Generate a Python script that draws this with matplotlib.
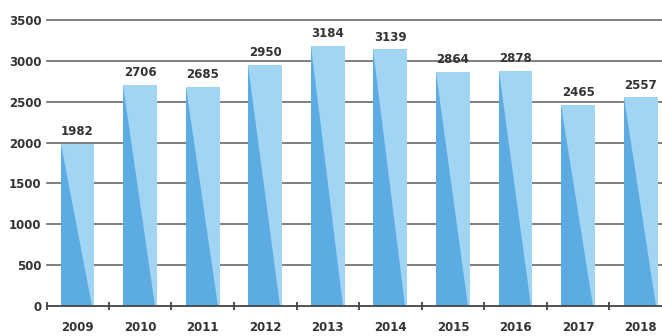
import numpy as np
import matplotlib
matplotlib.use("Agg")
import matplotlib.pyplot as plt

years = ['2009', '2010', '2011', '2012', '2013', '2014', '2015', '2016', '2017', '2018']
values = [1982, 2706, 2685, 2950, 3184, 3139, 2864, 2878, 2465, 2557]
yticks = [0, 500, 1000, 1500, 2000, 2500, 3000, 3500]

light = '#a2d5f4'
dark = '#5cabe3'
grid_col = '#6a6a6a'
txt = '#333333'

fig = plt.figure(figsize=(6.62, 3.36), dpi=100)
ax = fig.add_axes([47/662, 30/336, 615/662, 286/336])

x = np.arange(len(years))
w = 0.54

# gridlines behind the bars
for yv in yticks[1:]:
    ax.axhline(yv, color=grid_col, lw=1.2, zorder=1, clip_on=False)

ax.bar(x, values, width=w, color=light, zorder=2)
for xi, v in zip(x, values):
    x0, x1 = xi - w/2, xi + w/2
    ax.fill([x0, x0, x1 - 0.03], [v, 0, 0], color=dark, lw=0, zorder=3)
    ax.annotate(str(v), (xi, v), xytext=(0, 4), textcoords='offset points',
                ha='center', va='bottom', fontsize=8.5, fontweight='bold', color=txt)

ax.set_xlim(-0.487, 9.34)
ax.set_ylim(0, 3500)
ax.set_yticks(yticks)
ax.set_yticklabels([str(t) for t in yticks])
ax.set_xticks(x)
ax.set_xticklabels(years)
ax.set_xticks(np.concatenate([[-0.487], x[:-1] + 0.5]), minor=True)

for s in ['top', 'right', 'left']:
    ax.spines[s].set_visible(False)
ax.spines['bottom'].set_color('#444444')
ax.spines['bottom'].set_linewidth(1.3)
ax.spines['bottom'].set_zorder(4)

ax.tick_params(axis='y', length=0, pad=4, labelsize=8.5, labelcolor=txt)
ax.tick_params(axis='x', which='major', length=0, pad=11, labelsize=8.5, labelcolor=txt)
ax.tick_params(axis='x', which='minor', length=6, width=1.3, direction='inout', color='#444444')
for lab in ax.get_xticklabels() + ax.get_yticklabels():
    lab.set_fontweight('bold')

fig.savefig('out.png', dpi=100)
